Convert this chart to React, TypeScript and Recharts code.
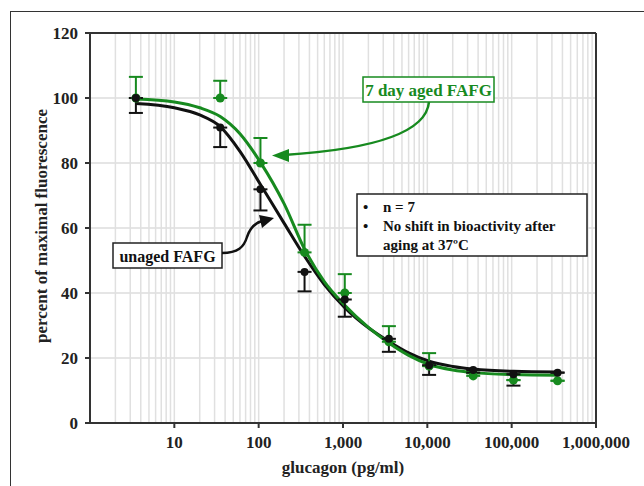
import { ComposedChart, Line, Scatter, XAxis, YAxis, CartesianGrid, ReferenceLine, ErrorBar } from "recharts";

// glucagon dose (pg/ml) and measured responses (% of maximal fluorescence)
const doses = [3.5, 35, 105, 350, 1050, 3500, 10500, 35000, 105000, 350000];
const unagedMean = [100, 90.9, 71.9, 46.5, 38, 25.9, 17.8, 16.3, 15.0, 15.5];
const unagedErrDown = [4.6, 6, 6.5, 6, 5.3, 4, 3, 0.8, 3.5, 0];
const agedMean = [100, 100, 80, 52.5, 40, 25, 17.5, 14.5, 13.2, 13.0];
const agedErrUp = [6.5, 5.3, 7.7, 8.5, 5.8, 4.8, 4, 0.8, 0, 0];

// fitted curves
const fitDoses = [3.5, 10, 20, 35, 60, 105, 200, 350, 600, 1050, 2000, 3500, 6000, 10500, 20000, 35000, 105000, 350000];
const unagedFit = [98.3, 97.0, 94.8, 91.2, 83.6, 73.4, 61.5, 51.3, 42.6, 35.5, 29.3, 25.1, 21.6, 19.0, 17.4, 16.6, 15.9, 15.7];
const agedFit = [99.7, 98.8, 97.0, 94.3, 89.0, 80.2, 67.5, 53.5, 43.5, 36.2, 29.4, 24.6, 20.8, 18.0, 16.3, 15.5, 14.9, 14.7];

const xTicks = [10, 100, 1000, 10000, 100000, 1000000];
const yTicks = [0, 20, 40, 60, 80, 100, 120];
const gridX: number[] = [];
for (let k = 0; k < 6; k++) for (let m = 1; m < 10; m++) if (!(k === 0 && m === 1)) gridX.push(m * Math.pow(10, k));

const GREEN = "#178a1f";
const INK = "#111";
const FONT = "'Liberation Serif', 'Times New Roman', serif";

const unagedPts = doses.map((x, i) => ({ x, y: unagedMean[i], err: [unagedErrDown[i], 0] }));
const agedPts = doses.map((x, i) => ({ x, y: agedMean[i], err: [0, agedErrUp[i]] }));
const unagedLine = fitDoses.map((x, i) => ({ x, y: unagedFit[i] }));
const agedLine = fitDoses.map((x, i) => ({ x, y: agedFit[i] }));

const tickStyle = { fill: "#222", fontSize: 17, fontWeight: 700, fontFamily: FONT };

export default function App() {
  return (
    <div style={{ position: "absolute", left: 0, top: 0, width: 644, height: 486, overflow: "hidden", background: "#fff" }}>
      <div style={{ position: "absolute", left: 10, top: 11, width: 800, height: 700, border: "1.5px solid #333" }} />
      <div style={{ position: "absolute", left: 0, top: 0 }}>
        <ComposedChart width={644} height={486} margin={{ top: 33, right: 48, bottom: 23, left: 30 }}>
          <CartesianGrid vertical={false} stroke="#dcdcdc" strokeWidth={1.5} />
          {gridX.map((v) => (
            <ReferenceLine key={v} x={v} stroke="#e0e0e0" strokeWidth={1.5} />
          ))}
          <ReferenceLine y={120} stroke="#333" strokeWidth={2} />
          <ReferenceLine x={1000000} stroke="#333" strokeWidth={2} />
          <XAxis
            dataKey="x"
            type="number"
            scale="log"
            domain={[1, 1000000]}
            allowDataOverflow
            ticks={xTicks}
            tickFormatter={(v: number) => v.toLocaleString("en-US")}
            tick={tickStyle}
            tickSize={5}
            tickMargin={8}
            height={40}
            stroke="#333"
            strokeWidth={2}
          />
          <YAxis
            dataKey="y"
            type="number"
            domain={[0, 120]}
            allowDataOverflow
            ticks={yTicks}
            tick={tickStyle}
            tickSize={5}
            tickMargin={7}
            width={60}
            stroke="#333"
            strokeWidth={2}
          />
          <Line data={unagedLine} dataKey="y" type="monotone" stroke={INK} strokeWidth={3} dot={false} isAnimationActive={false} />
          <Line data={agedLine} dataKey="y" type="monotone" stroke={GREEN} strokeWidth={3} dot={false} isAnimationActive={false} />
          <Scatter
            data={agedPts}
            dataKey="y"
            fill={GREEN}
            isAnimationActive={false}
            shape={(p: any) => <circle cx={p.cx} cy={p.cy} r={4.5} fill={GREEN} />}
          >
            <ErrorBar dataKey="err" direction="y" width={7} stroke={GREEN} strokeWidth={2} isAnimationActive={false} />
          </Scatter>
          <Scatter
            data={unagedPts}
            dataKey="y"
            fill={INK}
            isAnimationActive={false}
            shape={(p: any) => <circle cx={p.cx} cy={p.cy} r={4} fill={INK} />}
          >
            <ErrorBar dataKey="err" direction="y" width={7} stroke={INK} strokeWidth={2} isAnimationActive={false} />
          </Scatter>
        </ComposedChart>
      </div>
      <svg width={644} height={486} style={{ position: "absolute", left: 0, top: 0, pointerEvents: "none" }} fontFamily={FONT} fontWeight="bold">
        <text x={343} y={473} textAnchor="middle" fontSize={17} fill="#222">glucagon (pg/ml)</text>
        <text transform="translate(47,226) rotate(-90)" textAnchor="middle" fontSize={17} fill="#222">percent of maximal fluorescence</text>

        <rect x={363} y={77} width={131} height={25} fill="#fff" stroke={GREEN} strokeWidth={1.5} />
        <text x={428.5} y={95.5} textAnchor="middle" fontSize={17} fill={GREEN}>7 day aged FAFG</text>
        <path d="M 429 102 C 426 136, 362 150, 284 155" fill="none" stroke={GREEN} strokeWidth={2.5} />
        <polygon points="272,155.5 289,149 289,162" fill={GREEN} />

        <rect x={113} y={243} width={109} height={25} fill="#fff" stroke="#222" strokeWidth={1.5} />
        <text x={167.5} y={261.5} textAnchor="middle" fontSize={16} fill="#111">unaged FAFG</text>
        <path d="M 222 253 C 238 253, 244 247, 247 237 C 250 228, 255 223, 262 221" fill="none" stroke="#111" strokeWidth={2.5} />
        <polygon points="274,218 259,215 262,228" fill="#111" />

        <rect x={357} y={194} width={230} height={62} fill="#fff" stroke="#222" strokeWidth={1.5} />
        <g fontSize={15} fill="#111">
          <text x={363} y={212}>•</text>
          <text x={383} y={212}>n = 7</text>
          <text x={363} y={231}>•</text>
          <text x={383} y={231}>No shift in bioactivity after</text>
          <text x={383} y={250}>aging at 37ºC</text>
        </g>
      </svg>
    </div>
  );
}
